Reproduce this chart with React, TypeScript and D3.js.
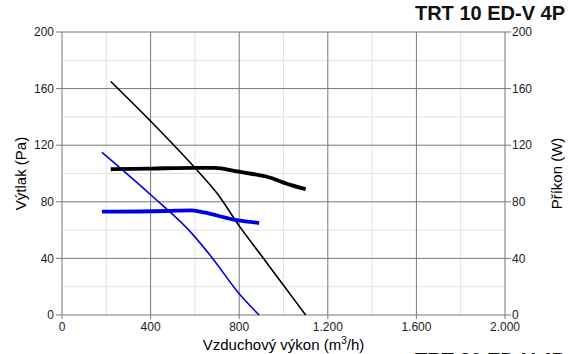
import React from "react";
import * as d3 from "d3";

// hodnoty
const xTicks = [0, 400, 800, 1200, 1600, 2000];
const yTicks = [0, 40, 80, 120, 160, 200];
const xMinor = [200, 600, 1000, 1400, 1800];
const yMinor = [20, 60, 100, 140, 180];

const pressureBlackFlow = [220, 400, 600, 700, 800, 900, 1000, 1100];
const pressureBlack = [165, 137, 104, 86, 63, 42, 21, 0];
const pressureBlueFlow = [180, 400, 590, 680, 800, 890];
const pressureBlue = [115, 85, 57, 40, 15, 0];
const powerBlackFlow = [220, 400, 600, 690, 790, 940, 1030, 1100];
const powerBlack = [103, 103.5, 104, 104, 101.5, 97, 92, 89];
const powerBlueFlow = [180, 470, 580, 640, 790, 890];
const powerBlue = [73, 73.5, 74, 72.5, 67, 65];

const App: React.FC = () => {
  const width = 568;
  const height = 354;
  const marginLeft = 62;
  const marginRight = 63;
  const marginTop = 32;
  const marginBottom = 39;

  const x = d3.scaleLinear().domain([0, 2000]).range([marginLeft, width - marginRight]);
  const y = d3.scaleLinear().domain([0, 200]).range([height - marginBottom, marginTop]);

  const line = (xs: number[], ys: number[]) =>
    d3
      .line<number>()
      .x((_, i) => x(xs[i]))
      .y((d) => y(d))
      .curve(d3.curveMonotoneX)(ys) as string;

  // 1200 -> "1.200"
  const fmtX = (v: number) => (v >= 1000 ? d3.format(".3f")(v / 1000) : String(v));

  const series = [
    { xs: pressureBlackFlow, ys: pressureBlack, color: "#000", w: 1.6 },
    { xs: pressureBlueFlow, ys: pressureBlue, color: "#0000e6", w: 1.6 },
    { xs: powerBlackFlow, ys: powerBlack, color: "#000", w: 3.8 },
    { xs: powerBlueFlow, ys: powerBlue, color: "#0000e6", w: 3.8 },
  ];

  const font = "Liberation Sans, Arial, sans-serif";

  return (
    <svg
      width={width}
      height={height}
      style={{ position: "absolute", left: 0, top: 0, fontFamily: font }}
    >
      <rect width={width} height={height} fill="#fff" />
      {/* vedlejší mřížka */}
      {xMinor.map((v) => (
        <line key={"xm" + v} x1={x(v)} x2={x(v)} y1={y(0)} y2={y(200)} stroke="#e3e3e3" strokeWidth={1} />
      ))}
      {yMinor.map((v) => (
        <line key={"ym" + v} x1={x(0)} x2={x(2000)} y1={y(v)} y2={y(v)} stroke="#e3e3e3" strokeWidth={1} />
      ))}
      {/* hlavní mřížka */}
      {xTicks.map((v) => (
        <line key={"xg" + v} x1={x(v)} x2={x(v)} y1={y(0)} y2={y(200)} stroke="#777" strokeWidth={1} />
      ))}
      {yTicks.map((v) => (
        <line key={"yg" + v} x1={x(0) - 6} x2={x(2000) + 6} y1={y(v)} y2={y(v)} stroke="#777" strokeWidth={1} />
      ))}
      {xTicks.map((v) => (
        <line key={"xt" + v} x1={x(v)} x2={x(v)} y1={y(0)} y2={y(0) + 4} stroke="#777" strokeWidth={1} />
      ))}
      {/* popisky os */}
      {yTicks.map((v) => (
        <text key={"yl" + v} x={x(0) - 8} y={y(v)} dy="0.35em" textAnchor="end" fontSize={12} fill="#222">
          {v}
        </text>
      ))}
      {yTicks.map((v) => (
        <text key={"yr" + v} x={x(2000) + 7} y={y(v)} dy="0.35em" textAnchor="start" fontSize={12} fill="#222">
          {v}
        </text>
      ))}
      {xTicks.map((v) => (
        <text key={"xl" + v} x={x(v)} y={y(0) + 16} textAnchor="middle" fontSize={12} fill="#222">
          {fmtX(v)}
        </text>
      ))}
      {/* křivky */}
      {series.map((s, i) => (
        <path
          key={"s" + i}
          d={line(s.xs, s.ys)}
          fill="none"
          stroke={s.color}
          strokeWidth={s.w}
          strokeLinejoin="round"
        />
      ))}
      <text
        transform={`translate(26,${y(100)}) rotate(-90)`}
        textAnchor="middle"
        fontSize={15}
        fill="#000"
      >
        Výtlak (Pa)
      </text>
      <text
        transform={`translate(562,${y(100)}) rotate(-90)`}
        textAnchor="middle"
        fontSize={15}
        fill="#000"
      >
        Příkon (W)
      </text>
      <text x={x(1000)} y={350} textAnchor="middle" fontSize={15} fill="#000">
        Vzduchový výkon (m<tspan dy="-6" fontSize={10}>3</tspan>
        <tspan dy="6">/h)</tspan>
      </text>
      <text x={565} y={20} textAnchor="end" fontSize={20} fontWeight="bold" fill="#111">
        TRT 10 ED-V 4P
      </text>
      <text x={565} y={367} textAnchor="end" fontSize={20} fontWeight="bold" fill="#111">
        TRT 20 ED-V 4P
      </text>
    </svg>
  );
};

export default App;
